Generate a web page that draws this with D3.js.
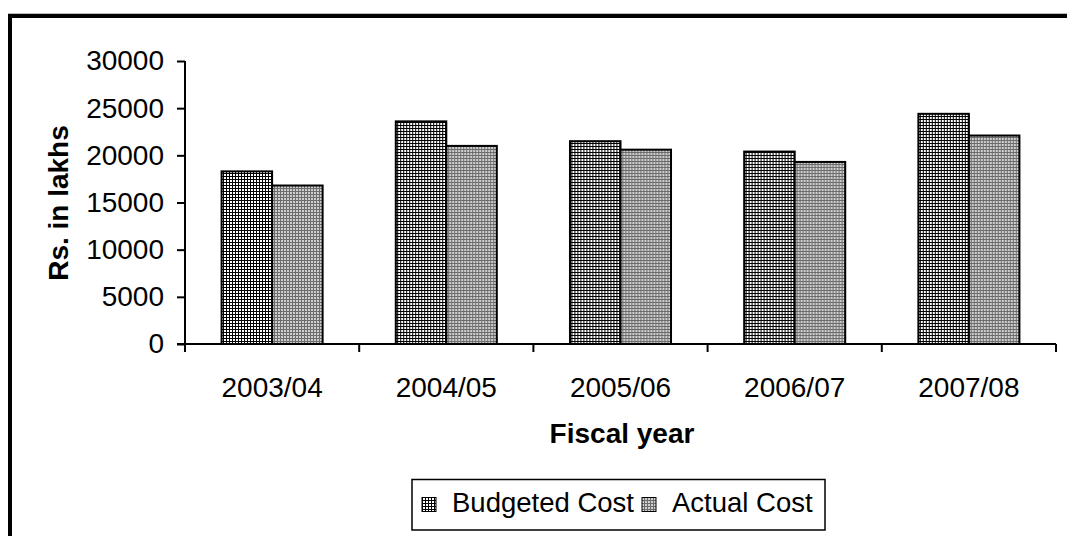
<!DOCTYPE html>
<html>
<head>
<meta charset="utf-8">
<script src="https://cdn.jsdelivr.net/npm/d3@7"></script>
<style>
  html, body { margin: 0; padding: 0; background: #fff; }
  svg { display: block; font-family: "Liberation Sans", Arial, sans-serif; }
</style>
</head>
<body>
<svg id="chart" width="1067" height="536"></svg>
<script>
// Fiscal years and cost series (Rs. in lakhs)
const categories = ["2003/04", "2004/05", "2005/06", "2006/07", "2007/08"];
const seriesNames = ["Budgeted Cost", "Actual Cost"];
const budgetedCost = [18300, 23600, 21500, 20400, 24400];
const actualCost = [16800, 21000, 20600, 19300, 22100];
const yTicks = [0, 5000, 10000, 15000, 20000, 25000, 30000];

const seriesValues = [budgetedCost, actualCost];
const rows = categories.map((c, i) => ({
  year: c,
  values: seriesNames.map((s, k) => ({ series: s, value: seriesValues[k][i] }))
}));

const svg = d3.select("#chart");
const plot = { left: 185, right: 1056, top: 61, bottom: 344 };

// Hatch patterns for the two series
const defs = svg.append("defs");
const pBud = defs.append("pattern").attr("id", "pat-budget")
  .attr("patternUnits", "userSpaceOnUse").attr("width", 3).attr("height", 3);
pBud.append("rect").attr("width", 3).attr("height", 3).attr("fill", "#000");
pBud.append("rect").attr("width", 2).attr("height", 2).attr("fill", "#fff");

const pAct = defs.append("pattern").attr("id", "pat-actual")
  .attr("patternUnits", "userSpaceOnUse").attr("width", 3).attr("height", 3);
pAct.append("rect").attr("width", 3).attr("height", 3).attr("fill", "#6c6c6c");
pAct.append("rect").attr("width", 2).attr("height", 2).attr("fill", "#cfcfcf");

const fills = { "Budgeted Cost": "url(#pat-budget)", "Actual Cost": "url(#pat-actual)" };

// Outer frame (top and left edges visible)
svg.append("line").attr("x1", 8).attr("x2", 1067).attr("y1", 13.5).attr("y2", 13.5)
  .attr("stroke", "#bdbdbd").attr("stroke-width", 1);
svg.append("rect").attr("x", 10).attr("y", 16).attr("width", 1200).attr("height", 800)
  .attr("fill", "none").attr("stroke", "#000").attr("stroke-width", 4);

// Scales
const x0 = d3.scaleBand().domain(categories).range([plot.left, plot.right]).padding(0);
const bw = x0.bandwidth();
const x1 = d3.scaleBand().domain(seriesNames).range([bw * 0.21, bw * 0.79]).padding(0);
const y = d3.scaleLinear().domain([0, 30000]).range([plot.bottom, plot.top]);

// Bars
const groups = svg.append("g").selectAll("g").data(rows).join("g")
  .attr("transform", d => `translate(${x0(d.year)},0)`);
groups.selectAll("rect").data(d => d.values).join("rect")
  .attr("x", d => x1(d.series))
  .attr("y", d => y(d.value))
  .attr("width", x1.bandwidth())
  .attr("height", d => y(0) - y(d.value))
  .attr("fill", d => fills[d.series])
  .attr("stroke", "#000")
  .attr("stroke-width", 2);

// Y axis
const yAxis = svg.append("g").attr("transform", `translate(${plot.left},0)`)
  .call(d3.axisLeft(y).tickValues(yTicks).tickSize(8).tickPadding(13).tickFormat(d3.format("d")));
yAxis.select(".domain").attr("stroke", "#000").attr("stroke-width", 2)
  .attr("d", `M0,${plot.top}V${plot.bottom + 8}`);
yAxis.selectAll(".tick line").attr("stroke", "#000").attr("stroke-width", 2);
yAxis.selectAll(".tick text").attr("font-size", 28).attr("fill", "#000")
  .attr("font-family", "Liberation Sans, Arial, sans-serif");

// X axis: ticks at category boundaries
const xAxisG = svg.append("g");
xAxisG.append("line").attr("x1", plot.left - 8).attr("x2", plot.right)
  .attr("y1", plot.bottom).attr("y2", plot.bottom)
  .attr("stroke", "#000").attr("stroke-width", 2);
const bounds = categories.map(c => x0(c)).concat([x0(categories[categories.length - 1]) + bw]);
xAxisG.selectAll("line.tk").data(bounds.slice(1)).join("line").attr("class", "tk")
  .attr("x1", d => d).attr("x2", d => d)
  .attr("y1", plot.bottom).attr("y2", plot.bottom + 8)
  .attr("stroke", "#000").attr("stroke-width", 2);
xAxisG.selectAll("text").data(categories).join("text")
  .attr("x", d => x0(d) + bw / 2).attr("y", 397)
  .attr("text-anchor", "middle").attr("font-size", 28).attr("fill", "#000")
  .text(d => d);

// Axis titles
svg.append("text").attr("x", 622).attr("y", 443).attr("text-anchor", "middle")
  .attr("font-size", 28).attr("font-weight", "bold").text("Fiscal year");
svg.append("text").attr("transform", "translate(68,203) rotate(-90)")
  .attr("text-anchor", "middle").attr("font-size", 28).attr("font-weight", "bold")
  .text("Rs. in lakhs");

// Legend
const legend = svg.append("g");
legend.append("rect").attr("x", 412).attr("y", 479.5).attr("width", 413).attr("height", 50.5)
  .attr("fill", "#fff").attr("stroke", "#000").attr("stroke-width", 1.5);
const legendX = [422, 642];
seriesNames.forEach((s, i) => {
  legend.append("rect").attr("x", legendX[i]).attr("y", 497.5).attr("width", 14).attr("height", 14)
    .attr("fill", fills[s]).attr("stroke", "#000").attr("stroke-width", 1);
  legend.append("text").attr("x", legendX[i] + 30).attr("y", 512)
    .attr("font-size", 27.5).attr("fill", "#000").text(s);
});
</script>
</body>
</html>
